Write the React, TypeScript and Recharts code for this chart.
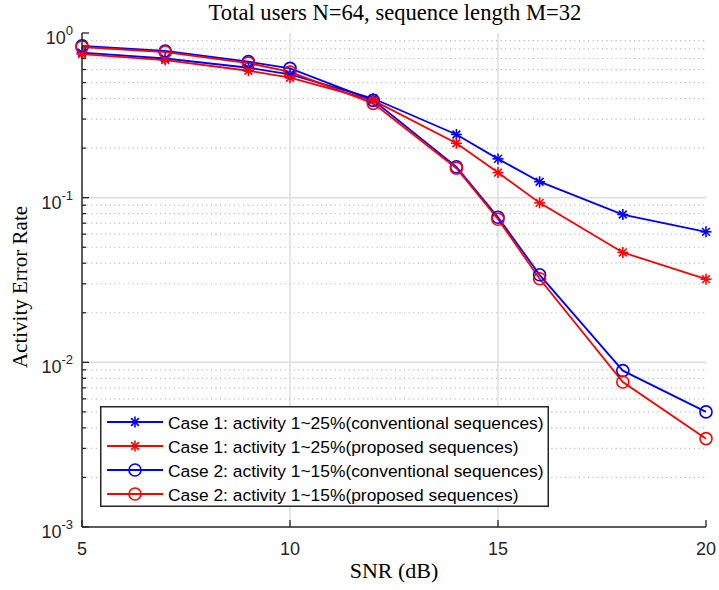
import React from 'react';
import {
  LineChart,
  Line,
  XAxis,
  YAxis,
  ReferenceLine,
  Legend
} from 'recharts';

// SNR (dB) sample points
const snr = [5, 7, 9, 10, 12, 14, 15, 16, 18, 20];

// activity error rate per series
const case1Conv = [0.76, 0.7, 0.615, 0.56, 0.4, 0.242, 0.172, 0.125, 0.079, 0.062];
const case1Prop = [0.745, 0.685, 0.59, 0.535, 0.39, 0.214, 0.142, 0.093, 0.0465, 0.032];
const case2Conv = [0.835, 0.778, 0.67, 0.61, 0.39, 0.154, 0.076, 0.034, 0.0089, 0.005];
const case2Prop = [0.822, 0.766, 0.657, 0.58, 0.374, 0.151, 0.074, 0.0322, 0.0076, 0.00344];

const xTicks = [5, 10, 15, 20];
const majorY = [0.001, 0.01, 0.1, 1];
const decadeExp: Record<number, string> = { 0.001: '-3', 0.01: '-2', 0.1: '-1', 1: '0' };

const minorY: number[] = [];
[0.001, 0.01, 0.1].forEach((d) => {
  for (let k = 2; k <= 9; k++) minorY.push(k * d);
});
const allY = [...majorY, ...minorY].sort((a, b) => a - b);

const series = [
  { key: 'c1c', name: 'Case 1: activity 1~25%(conventional sequences)', color: '#0000ff', marker: 'star', values: case1Conv },
  { key: 'c1p', name: 'Case 1: activity 1~25%(proposed sequences)', color: '#ff0000', marker: 'star', values: case1Prop },
  { key: 'c2c', name: 'Case 2: activity 1~15%(conventional sequences)', color: '#0000ff', marker: 'circle', values: case2Conv },
  { key: 'c2p', name: 'Case 2: activity 1~15%(proposed sequences)', color: '#ff0000', marker: 'circle', values: case2Prop },
];

const data = snr.map((s, i) => {
  const row: any = { snr: s };
  series.forEach((sr) => { row[sr.key] = sr.values[i]; });
  return row;
});

const AXIS = '#262626';
const SANS = '"Liberation Sans", Arial, Helvetica, sans-serif';
const SERIF = '"Liberation Serif", "Times New Roman", serif';

const Marker = ({ cx, cy, color, type }: any) => {
  if (cx == null || cy == null) return null;
  if (type === 'circle') {
    return <circle cx={cx} cy={cy} r={6} fill="none" stroke={color} strokeWidth={1.6} />;
  }
  const r = 5.5;
  const d = r * 0.707;
  return (
    <g stroke={color} strokeWidth={1.6}>
      <line x1={cx - r} y1={cy} x2={cx + r} y2={cy} />
      <line x1={cx} y1={cy - r} x2={cx} y2={cy + r} />
      <line x1={cx - d} y1={cy - d} x2={cx + d} y2={cy + d} />
      <line x1={cx - d} y1={cy + d} x2={cx + d} y2={cy - d} />
    </g>
  );
};

const LeftTick = ({ x, y, payload }: any) => {
  const v = payload.value;
  const major = majorY.includes(v);
  return (
    <g>
      <line x1={x} y1={y} x2={x + (major ? 7 : 4)} y2={y} stroke={AXIS} strokeWidth={1.3} />
      {major && (
        <text x={x - 9} y={y + 11} textAnchor="end" fontFamily={SANS} fontSize={18} fill={AXIS}>
          10<tspan dy={-9} fontSize={13}>{decadeExp[v]}</tspan>
        </text>
      )}
    </g>
  );
};

const RightTick = ({ x, y, payload }: any) => {
  const major = majorY.includes(payload.value);
  return <line x1={x} y1={y} x2={x - (major ? 7 : 4)} y2={y} stroke={AXIS} strokeWidth={1.3} />;
};

const BottomTick = ({ x, y, payload }: any) => (
  <g>
    <line x1={x} y1={y} x2={x} y2={y - 7} stroke={AXIS} strokeWidth={1.3} />
    <text x={x} y={y + 28} textAnchor="middle" fontFamily={SANS} fontSize={18} fill={AXIS}>
      {payload.value}
    </text>
  </g>
);

const TopTick = ({ x, y }: any) => (
  <line x1={x} y1={y} x2={x} y2={y + 7} stroke={AXIS} strokeWidth={1.3} />
);

const LegendBox = () => (
  <svg width={449} height={101} style={{ display: 'block' }}>
    <rect x={0.75} y={0.75} width={447.5} height={99.5} fill="#fff" stroke={AXIS} strokeWidth={1.5} />
    {series.map((s, i) => {
      const base = 23 + i * 24;
      const ly = base - 7;
      return (
        <g key={s.key}>
          <line x1={7} y1={ly} x2={63} y2={ly} stroke={s.color} strokeWidth={1.8} />
          <Marker cx={35} cy={ly} color={s.color} type={s.marker} />
          <text x={68} y={base} fontFamily={SANS} fontSize={17.4} fill="#000">
            {s.name}
          </text>
        </g>
      );
    })}
  </svg>
);

export default function App() {
  return (
    <div style={{ position: 'absolute', left: 0, top: 0, background: '#fff' }}>
      <LineChart width={719} height={590} data={data} margin={{ top: 33, right: 13, bottom: 0, left: 0 }}>
        <XAxis
          xAxisId="b"
          dataKey="snr"
          type="number"
          domain={[5, 20]}
          ticks={xTicks}
          height={63}
          axisLine={{ stroke: AXIS, strokeWidth: 1.5 }}
          tickLine={false}
          tickSize={0}
          tickMargin={0}
          interval={0}
          tick={<BottomTick />}
        />
        <XAxis
          xAxisId="t"
          orientation="top"
          dataKey="snr"
          type="number"
          domain={[5, 20]}
          ticks={xTicks}
          height={0}
          axisLine={{ stroke: AXIS, strokeWidth: 1.5 }}
          tickLine={false}
          tickSize={0}
          tickMargin={0}
          interval={0}
          tick={<TopTick />}
        />
        <YAxis
          yAxisId="l"
          type="number"
          scale="log"
          domain={[0.001, 1]}
          allowDataOverflow
          ticks={allY}
          width={82}
          axisLine={{ stroke: AXIS, strokeWidth: 1.5 }}
          tickLine={false}
          tickSize={0}
          tickMargin={0}
          interval={0}
          tick={<LeftTick />}
        />
        <YAxis
          yAxisId="r"
          orientation="right"
          type="number"
          scale="log"
          domain={[0.001, 1]}
          allowDataOverflow
          ticks={allY}
          width={0}
          axisLine={{ stroke: AXIS, strokeWidth: 1.5 }}
          tickLine={false}
          tickSize={0}
          tickMargin={0}
          interval={0}
          tick={<RightTick />}
        />

        {minorY.map((v) => (
          <ReferenceLine key={'m' + v} xAxisId="b" yAxisId="l" y={v} stroke="#bcbcbc" strokeWidth={1.2} strokeDasharray="1.2 3.4" />
        ))}
        {[0.01, 0.1].map((v) => (
          <ReferenceLine key={'M' + v} xAxisId="b" yAxisId="l" y={v} stroke="#dedede" strokeWidth={1.5} />
        ))}
        {[10, 15].map((v) => (
          <ReferenceLine key={'V' + v} xAxisId="b" yAxisId="l" x={v} stroke="#dedede" strokeWidth={1.5} />
        ))}

        {series.map((s) => (
          <Line
            key={s.key}
            xAxisId="b"
            yAxisId="l"
            dataKey={s.key}
            name={s.name}
            stroke={s.color}
            strokeWidth={1.8}
            isAnimationActive={false}
            dot={(p: any) => <Marker key={s.key + p.index} cx={p.cx} cy={p.cy} color={s.color} type={s.marker} />}
            activeDot={false}
          />
        ))}

        <Legend
          layout="vertical"
          align="center"
          verticalAlign="middle"
          wrapperStyle={{ left: 100, top: 406, width: 449, height: 101 }}
          content={() => <LegendBox />}
        />

        <text x={395} y={20} textAnchor="middle" fontFamily={SERIF} fontSize={22.6} fill="#000">
          Total users N=64, sequence length M=32
        </text>
        <text x={394} y={578} textAnchor="middle" fontFamily={SERIF} fontSize={22} fill="#000">
          SNR (dB)
        </text>
        <text x={27} y={287} textAnchor="middle" fontFamily={SERIF} fontSize={21} fill="#000" transform="rotate(-90, 27, 287)">
          Activity Error Rate
        </text>
      </LineChart>
    </div>
  );
}
